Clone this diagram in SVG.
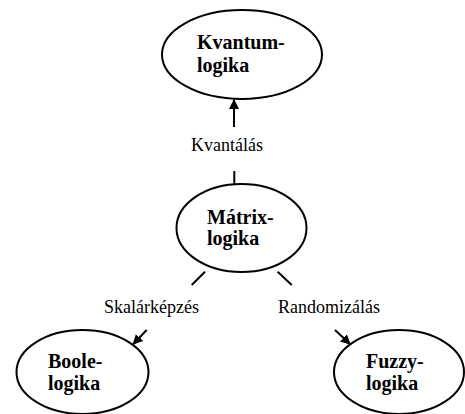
<svg xmlns="http://www.w3.org/2000/svg" width="465" height="414" viewBox="0 0 465 414">
<style>
.n{fill:#fff;stroke:#000;stroke-width:2}
.t{font-family:'Liberation Serif','Times New Roman','DejaVu Serif',serif;font-weight:bold;font-size:20px;fill:#000}
.l{font-family:'Liberation Serif','Times New Roman','DejaVu Serif',serif;font-size:18px;fill:#000}
.c{stroke:#000;stroke-width:2;fill:none}
</style>
<defs>
<marker id="ah" markerWidth="10" markerHeight="10" refX="9" refY="5" orient="auto" markerUnits="userSpaceOnUse">
<path d="M0,0 L10,5 L0,10 Z" fill="#000"/>
</marker>
</defs>
<rect width="465" height="414" fill="#fff"/>
<g id="kvantum">
<ellipse class="n" cx="242" cy="54.5" rx="80" ry="44.5"/>
<text class="t" x="197" y="49">Kvantum-</text>
<text class="t" x="197" y="72">logika</text>
</g>
<g id="matrix">
<ellipse class="n" cx="241.5" cy="228" rx="65" ry="44"/>
<text class="t" x="207" y="224">Mátrix-</text>
<text class="t" x="207" y="245">logika</text>
</g>
<g id="boole">
<ellipse class="n" cx="82.5" cy="372" rx="66" ry="42"/>
<text class="t" x="48" y="368">Boole-</text>
<text class="t" x="48" y="390">logika</text>
</g>
<g id="fuzzy">
<ellipse class="n" cx="399" cy="372" rx="65" ry="42"/>
<text class="t" x="366" y="368">Fuzzy-</text>
<text class="t" x="366" y="390">logika</text>
</g>
<g id="connectors">
<line class="c" x1="234.3" y1="184" x2="234.3" y2="171"/>
<line class="c" x1="234" y1="127" x2="234" y2="100" marker-end="url(#ah)"/>
<line class="c" x1="205" y1="271.7" x2="191.7" y2="285"/>
<line class="c" x1="146.7" y1="330" x2="133.3" y2="344" marker-end="url(#ah)"/>
<line class="c" x1="277.7" y1="271.7" x2="291.7" y2="285"/>
<line class="c" x1="335" y1="330" x2="350" y2="344" marker-end="url(#ah)"/>
<text class="l" x="191" y="151">Kvantálás</text>
<text class="l" x="104" y="313">Skalárképzés</text>
<text class="l" x="278" y="313">Randomizálás</text>
</g>
</svg>
